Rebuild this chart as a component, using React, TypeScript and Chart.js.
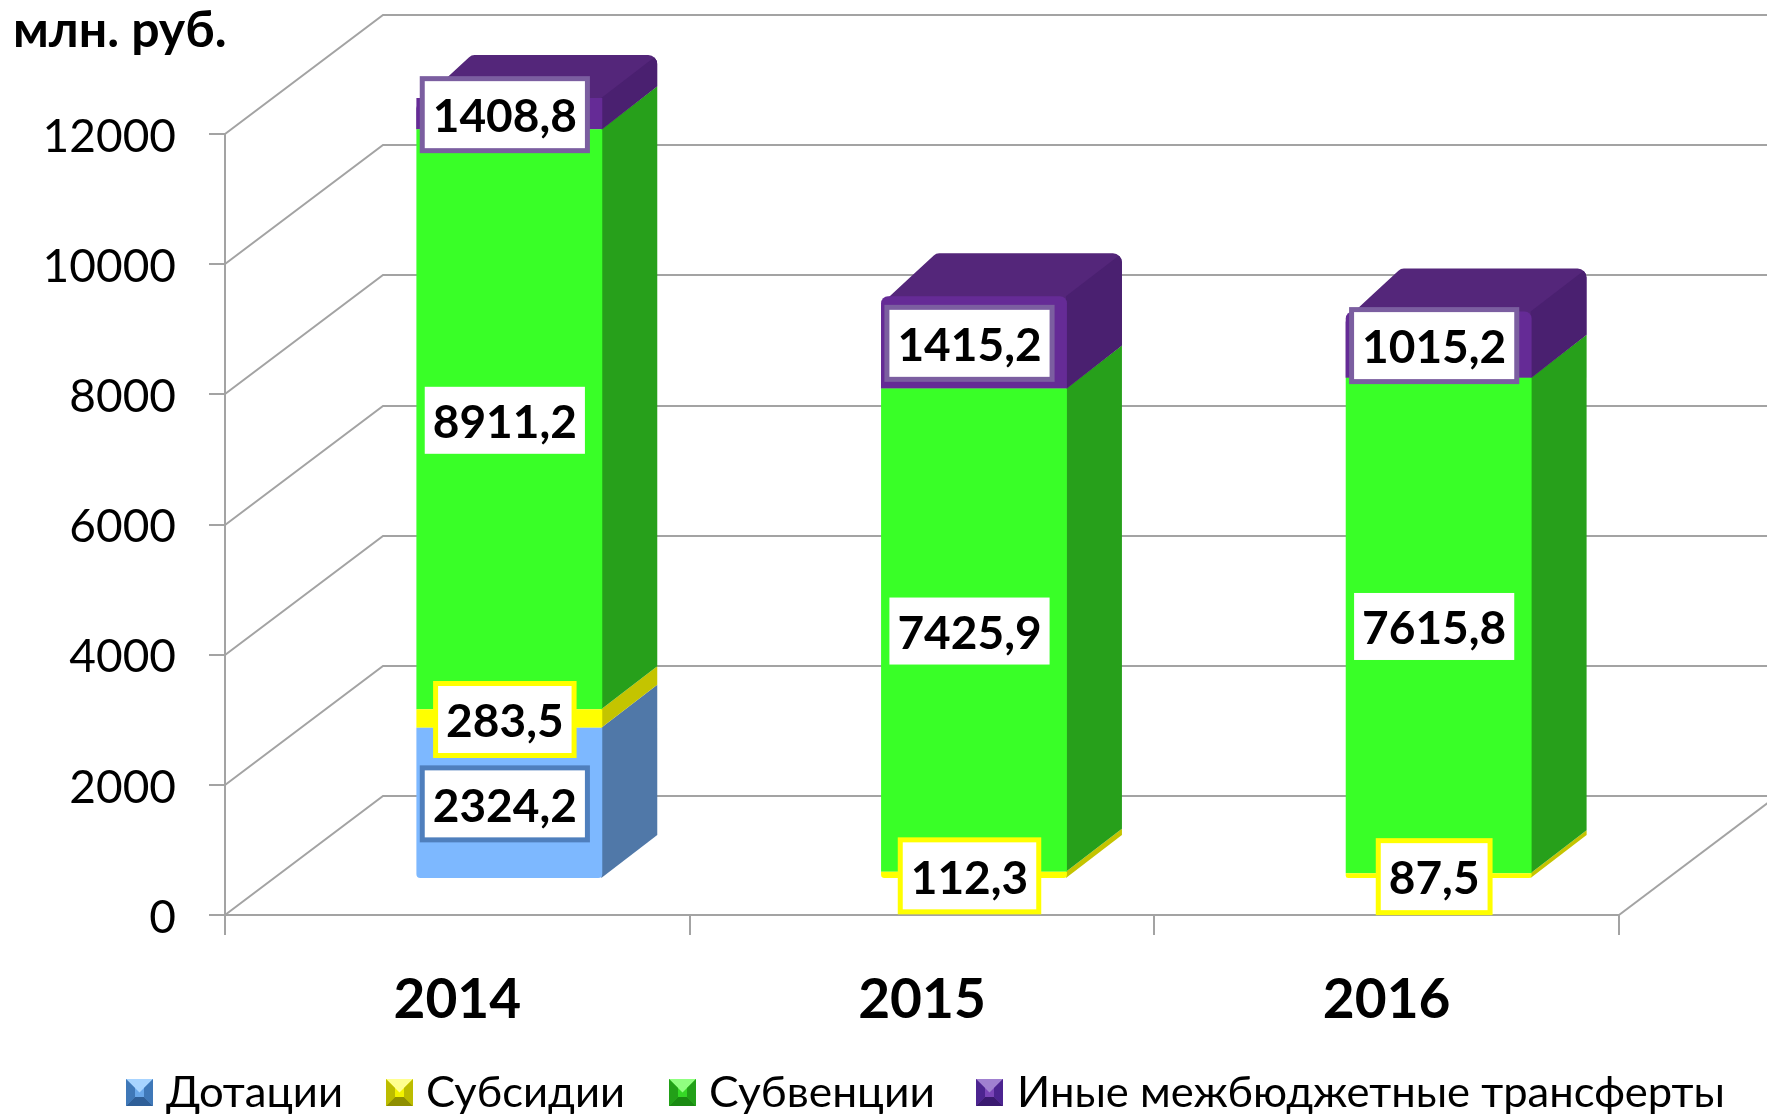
import React, { useEffect, useRef } from "react";
import { Chart, registerables } from "chart.js";

Chart.register(...registerables);

const categories = ["2014", "2015", "2016"];
const dotations = [2324.2, 0, 0];
const subsidies = [283.5, 112.3, 87.5];
const subventions = [8911.2, 7425.9, 7615.8];
const others = [1408.8, 1415.2, 1015.2];
const seriesNames = ["Дотации", "Субсидии", "Субвенции", "Иные межбюджетные трансферты"];
const unitLabel = "млн. руб.";

const FONT = "Lato, 'Open Sans', sans-serif";
const FRONT = ["#7db8ff", "#ffff00", "#39ff27", "#652b96"];
const SIDE = ["#5078a8", "#c4c400", "#27a01b", "#4a2070"];
const TOP_PURPLE = "#54267a";
const LABEL_BORDER = ["#4f7fbd", "#ffff00", null, "#7b5ea0"];
const GRID = "#a3a3a3";

// wall and bar depth
const WALL_DX = 158, WALL_DY = -119;
const BAR_SHIFT_X = 52, BAR_SHIFT_Y = -36;
const BAR_DX = 55, BAR_DY = -43;

const legendSwatchX = [126, 386, 669, 976];
const legendTextX = [166, 426, 709, 1017];
const legendTextW = [177, 199, 226, 708];
const SWATCH = ["#6aa8ea", "#f2f200", "#35d826", "#7a45b8"];
const SWATCH_MID = ["#3f78b8", "#bcbc00", "#22a018", "#4c2490"];
const SWATCH_DARK = ["#2f5f98", "#8f8f00", "#1a8a12", "#3a1a70"];
const SWATCH_LIGHT = ["#a8d4ff", "#ffff90", "#90ff80", "#a080d0"];

function roundedPoly(ctx: CanvasRenderingContext2D, pts: number[][], radii: number[]) {
  const n = pts.length;
  const mid = (a: number[], b: number[]) => [(a[0] + b[0]) / 2, (a[1] + b[1]) / 2];
  const s = mid(pts[n - 1], pts[0]);
  ctx.beginPath();
  ctx.moveTo(s[0], s[1]);
  for (let i = 0; i < n; i++) {
    const m = mid(pts[i], pts[(i + 1) % n]);
    ctx.arcTo(pts[i][0], pts[i][1], m[0], m[1], radii[i]);
    ctx.lineTo(m[0], m[1]);
  }
  ctx.closePath();
}

const scene = {
  id: "scene",
  beforeDatasetsDraw(chart: any) {
    const { ctx, chartArea, scales } = chart;
    const y = scales.y, W = chart.width;
    ctx.save();
    ctx.strokeStyle = GRID;
    ctx.lineWidth = 2;
    y.ticks.forEach((t: any) => {
      const py = Math.round(y.getPixelForValue(t.value));
      ctx.beginPath();
      ctx.moveTo(chartArea.left, py);
      ctx.lineTo(chartArea.left + WALL_DX, py + WALL_DY);
      ctx.lineTo(W, py + WALL_DY);
      ctx.stroke();
    });
    const y0 = y.getPixelForValue(0);
    ctx.beginPath();
    ctx.moveTo(chartArea.right, y0);
    ctx.lineTo(chartArea.right + WALL_DX, y0 + WALL_DY);
    ctx.stroke();
    ctx.restore();

    // shift the whole bar group into the depth of the floor; the dataset clip moves with it
    ctx.save();
    ctx.translate(BAR_SHIFT_X, BAR_SHIFT_Y);
    categories.forEach((_, j) => {
      chart.data.datasets.forEach((_d: any, i: number) => {
        const el = chart.getDatasetMeta(i).data[j];
        const val = chart.data.datasets[i].data[j];
        if (!val) return;
        const yTop = Math.max(el.y, chartArea.top);
        const yBase = Math.max(el.base, chartArea.top);
        const xl = el.x - el.width / 2;
        const xr = el.x + el.width / 2;
        const sidePath = () => {
          ctx.beginPath();
          ctx.moveTo(xr - 1, yBase);
          ctx.lineTo(xr + BAR_DX, yBase + BAR_DY);
          ctx.lineTo(xr + BAR_DX, yTop + BAR_DY);
          ctx.lineTo(xr - 1, yTop);
          ctx.closePath();
        };
        if (i < chart.data.datasets.length - 1) {
          ctx.fillStyle = SIDE[i];
          sidePath();
          ctx.fill();
          return;
        }
        // top segment: top face and side share one rounded silhouette
        ctx.save();
        roundedPoly(
          ctx,
          [
            [xl, yTop + 8],
            [xl + BAR_DX, yTop + BAR_DY],
            [xr + BAR_DX, yTop + BAR_DY],
            [xr + BAR_DX, yBase + BAR_DY],
            [xr, yBase],
            [xl, yBase],
          ],
          [6, 8, 9, 0, 0, 0],
        );
        ctx.clip();
        ctx.fillStyle = TOP_PURPLE;
        ctx.fillRect(xl - 5, yTop + BAR_DY - 5, el.width + BAR_DX + 10, yBase - yTop - BAR_DY + 10);
        ctx.fillStyle = SIDE[i];
        sidePath();
        ctx.fill();
        ctx.restore();
      });
    });
  },
  afterDatasetsDraw(chart: any) {
    const { ctx, chartArea, scales } = chart;
    ctx.restore();

    // value-axis labels
    ctx.save();
    ctx.font = `46px ${FONT}`;
    ctx.fillStyle = "#000";
    ctx.textAlign = "right";
    ctx.textBaseline = "middle";
    scales.y.ticks.forEach((t: any) => {
      ctx.fillText(String(t.value), 176, scales.y.getPixelForValue(t.value) + 3);
    });
    ctx.restore();

    // data labels
    ctx.save();
    ctx.font = `bold 46px ${FONT}`;
    ctx.textAlign = "center";
    ctx.textBaseline = "middle";
    chart.data.datasets.forEach((ds: any, i: number) => {
      chart.getDatasetMeta(i).data.forEach((el: any, j: number) => {
        const val = ds.data[j];
        if (!val) return;
        const top = Math.max(el.y, chartArea.top);
        const base = Math.max(el.base, chartArea.top);
        const cx = el.x + BAR_SHIFT_X - 4.5;
        const cy = (top + base) / 2 + BAR_SHIFT_Y;
        const txt = val.toFixed(1).replace(".", ",");
        const w = ctx.measureText(txt).width + 16;
        const h = 67;
        const border = LABEL_BORDER[i];
        if (border) {
          ctx.fillStyle = border;
          ctx.fillRect(cx - w / 2 - 5, cy - h / 2 - 4, w + 10, h + 10);
        }
        ctx.fillStyle = "#ffffff";
        ctx.fillRect(cx - w / 2, cy - h / 2 + 1, w, h);
        ctx.fillStyle = "#000000";
        ctx.fillText(txt, cx, cy + 4);
      });
    });
    ctx.restore();

    // unit label
    ctx.save();
    ctx.fillStyle = "#000";
    ctx.font = `bold 50px ${FONT}`;
    ctx.textBaseline = "alphabetic";
    ctx.textAlign = "left";
    ctx.fillText(unitLabel, 13, 47);
    ctx.restore();

    // legend
    ctx.save();
    ctx.textBaseline = "alphabetic";
    ctx.textAlign = "left";
    chart.data.datasets.forEach((ds: any, i: number) => {
      const x = legendSwatchX[i], y = 1079, s = 27, b = 9;
      const c = s / 2;
      const poly = (pts: number[][], col: string) => {
        ctx.fillStyle = col;
        ctx.beginPath();
        pts.forEach((p, k) => (k ? ctx.lineTo(p[0], p[1]) : ctx.moveTo(p[0], p[1])));
        ctx.closePath();
        ctx.fill();
      };
      ctx.fillStyle = SWATCH[i];
      ctx.fillRect(x, y, s, s);
      poly([[x, y], [x + s, y], [x + s - b, y + b], [x + b, y + b]], SWATCH_LIGHT[i]);
      poly([[x, y], [x + b, y + b], [x + b, y + s - b], [x, y + s]], SWATCH_MID[i]);
      poly([[x + s, y], [x + s - b, y + b], [x + s - b, y + s - b], [x + s, y + s]], SWATCH_MID[i]);
      poly([[x, y + s], [x + s, y + s], [x + s - b, y + s - b], [x + b, y + s - b]], SWATCH_DARK[i]);
      poly([[x + b, y + b], [x + s - b, y + b], [x + c, y + c]], SWATCH_LIGHT[i]);
      ctx.font = `43px ${FONT}`;
      const tw = ctx.measureText(ds.label).width;
      ctx.save();
      ctx.translate(legendTextX[i], 1107);
      ctx.scale(legendTextW[i] / tw, 1);
      ctx.fillStyle = "#000";
      ctx.fillText(ds.label, 0, 0);
      ctx.restore();
    });
    ctx.restore();
  },
};

export default function App() {
  const ref = useRef<HTMLCanvasElement>(null);
  useEffect(() => {
    const values = [dotations, subsidies, subventions, others];
    const chart = new Chart(ref.current as HTMLCanvasElement, {
      type: "bar",
      data: {
        labels: categories,
        datasets: values.map((data, i) => ({
          label: seriesNames[i],
          data,
          backgroundColor: FRONT[i],
          borderWidth: 0,
          borderSkipped: false,
          inflateAmount: 0,
          barPercentage: 0.4,
          categoryPercentage: 1,
          borderRadius: (c: any) => {
            const j = c.dataIndex;
            const isBottom = i === 0 ? true : i === 1 ? !dotations[j] : false;
            return {
              topLeft: i === 3 ? 7 : 0,
              topRight: i === 3 ? 7 : 0,
              bottomLeft: isBottom ? 4 : 0,
              bottomRight: isBottom ? 4 : 0,
            };
          },
        })),
      },
      options: {
        responsive: false,
        animation: false,
        layout: { padding: { left: 0, top: 134, right: 148, bottom: 0 } },
        plugins: { legend: { display: false }, tooltip: { enabled: false } },
        scales: {
          x: {
            stacked: true,
            afterFit: (s: any) => { s.height = 199; },
            grid: { drawOnChartArea: false, color: GRID, lineWidth: 2, tickLength: 20, offset: true },
            border: { color: GRID, width: 2 },
            ticks: { color: "#000", padding: 32, font: { family: FONT, size: 55, weight: "bold" }, maxRotation: 0 },
          },
          y: {
            stacked: true,
            min: 0,
            max: 12000,
            afterFit: (s: any) => { s.width = 225; },
            grid: { drawOnChartArea: false, color: GRID, lineWidth: 2, tickLength: 16 },
            border: { color: GRID, width: 2 },
            ticks: {
              stepSize: 2000,
              display: false,
            },
          },
        },
      },
      plugins: [scene],
    } as any);
    return () => chart.destroy();
  }, []);
  return (
    <div style={{ position: "absolute", left: 0, top: 0, width: 1767, height: 1114, overflow: "hidden", background: "#fff" }}>
      <canvas ref={ref} width={1767} height={1114} style={{ display: "block" }} />
    </div>
  );
}
